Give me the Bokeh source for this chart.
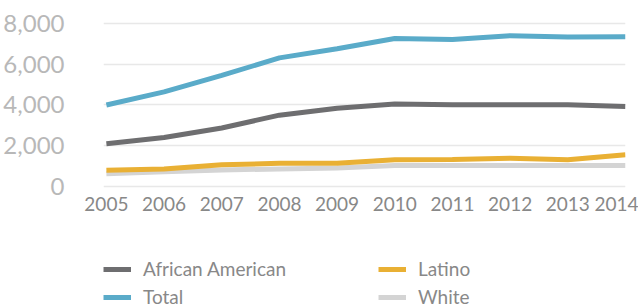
from bokeh.plotting import figure
from bokeh.layouts import column
from bokeh.models import (Range1d, FixedTicker, NumeralTickFormatter, Legend, LegendItem)
from bokeh.embed import file_html
from bokeh.resources import INLINE

years = [2005, 2006, 2007, 2008, 2009, 2010, 2011, 2012, 2013, 2014]
african_american = [2100, 2400, 2870, 3500, 3840, 4050, 4010, 4010, 4010, 3920]
total = [4000, 4640, 5450, 6310, 6760, 7260, 7210, 7400, 7330, 7350]
latino = [790, 860, 1060, 1140, 1140, 1310, 1320, 1390, 1310, 1560]
white = [620, 720, 810, 860, 910, 1030, 1030, 1030, 1030, 1030]
y_ticks = [0, 2000, 4000, 6000, 8000]

series_names = ["African American", "Total", "Latino", "White"]
series_colors = ["#6e6e70", "#5aabc9", "#e9b034", "#d4d4d4"]
series_values = [african_american, total, latino, white]

FONT = "Lato"

p = figure(frame_width=522, frame_height=173, output_backend="svg", toolbar_location=None,
           x_range=Range1d(2004.95, 2014.0), y_range=Range1d(-100, 8390),
           min_border_left=92, min_border_right=13, min_border_top=15,
           min_border_bottom=0)
p.outline_line_color = None
p.background_fill_color = "white"
p.border_fill_color = "white"

p.line(years, white, line_color=series_colors[3], line_width=5)
p.line(years, latino, line_color=series_colors[2], line_width=5)
p.line(years, african_american, line_color=series_colors[0], line_width=5)
p.line(years, total, line_color=series_colors[1], line_width=5)

p.xgrid.grid_line_color = None
p.ygrid.grid_line_color = "#e8e8e8"
p.ygrid.grid_line_width = 1.5
p.ygrid.ticker = FixedTicker(ticks=y_ticks)

p.yaxis.ticker = FixedTicker(ticks=y_ticks)
p.yaxis.formatter = NumeralTickFormatter(format="0,0")
p.yaxis.axis_line_color = None
p.yaxis.major_tick_line_color = None
p.yaxis.minor_tick_line_color = None
p.yaxis.major_label_text_font = FONT
p.yaxis.major_label_text_font_size = "24px"
p.yaxis.major_label_text_color = "#b8b8b8"
p.yaxis.major_label_standoff = 33

p.xaxis.ticker = FixedTicker(ticks=years)
p.xaxis.axis_line_color = None
p.xaxis.major_tick_line_color = None
p.xaxis.minor_tick_line_color = None
p.xaxis.major_label_text_font = FONT
p.xaxis.major_label_text_font_size = "19px"
p.xaxis.major_label_text_color = "#888888"
p.xaxis.major_label_standoff = 2

# legend figure (lines drawn off-screen, only their legend glyphs show)
p2 = figure(width=627, height=95, output_backend="svg", toolbar_location=None,
            x_range=Range1d(2004.95, 2014.0), y_range=Range1d(-20000, -19000),
            x_axis_type=None, y_axis_type=None,
            min_border_left=0, min_border_right=0, min_border_top=0,
            min_border_bottom=0)
p2.outline_line_color = None
p2.grid.visible = False
items = []
for name, color, vals in zip(series_names, series_colors, series_values):
    r = p2.line(years, vals, line_color=color, line_width=5)
    items.append(LegendItem(label=name, renderers=[r]))

legend = Legend(items=items, ncols=2, location=(0, 0), border_line_color=None,
                background_fill_alpha=0, label_text_font=FONT,
                label_text_font_size="19px", label_text_color="#888888",
                glyph_width=28, glyph_height=20, label_height=20, label_width=230,
                label_standoff=12, spacing=5, padding=0, margin=0)
p2.add_layout(legend, "center")

layout = column(p, p2, spacing=0)
open("out.html", "w").write(file_html(layout, INLINE))
